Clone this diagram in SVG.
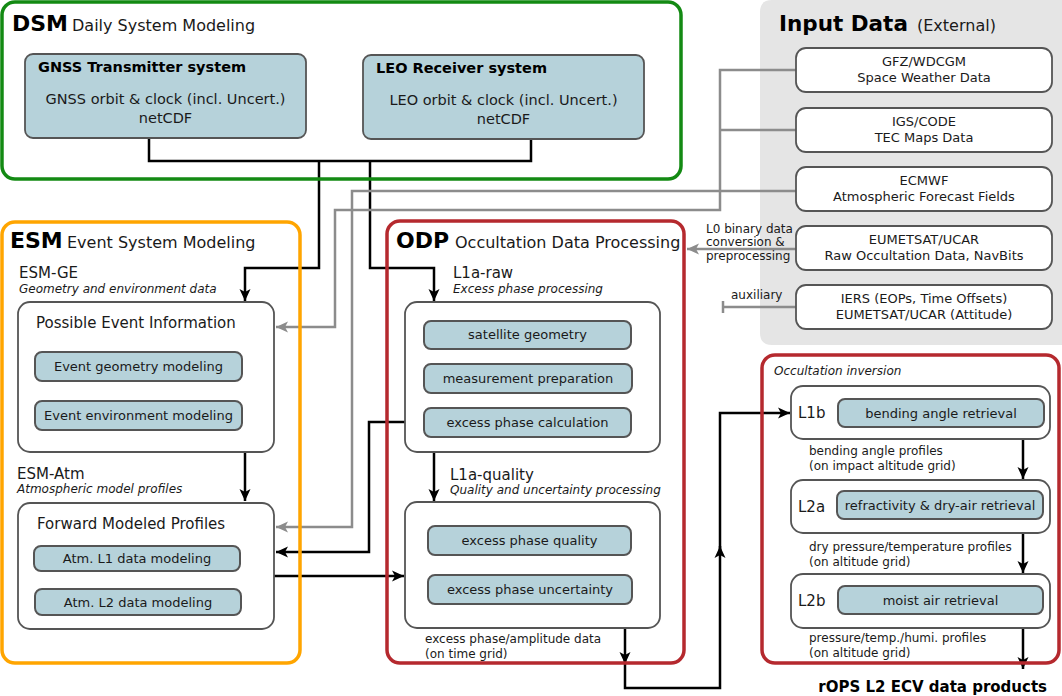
<svg xmlns="http://www.w3.org/2000/svg" width="1062" height="696" viewBox="0 0 1062 696">
<defs>
<marker id="ab" markerUnits="userSpaceOnUse" markerWidth="14" markerHeight="14" viewBox="0 0 14 14" refX="13" refY="7" orient="auto">
<path d="M1,1.5 L13,7 L1,12.5 L4,7 z" fill="#000"/>
</marker>
<marker id="ag" markerUnits="userSpaceOnUse" markerWidth="14" markerHeight="14" viewBox="0 0 14 14" refX="13" refY="7" orient="auto">
<path d="M1,1.5 L13,7 L1,12.5 L4,7 z" fill="#8c8c8c"/>
</marker>
<marker id="bar" markerUnits="userSpaceOnUse" markerWidth="14" markerHeight="14" viewBox="0 0 14 14" refX="7" refY="7" orient="auto">
<path d="M7,1 V13" stroke="#8c8c8c" stroke-width="2.5" fill="none"/>
</marker>
</defs>
<style>
text{font-family:"DejaVu Sans","Liberation Sans",sans-serif;fill:#1a1a1a}
.hb{font-size:22px;font-weight:bold;fill:#000}
.hs{font-size:16px}
.sys{fill:#b6d2da;stroke:#555;stroke-width:1.8}
.wb{fill:#fff;stroke:#555;stroke-width:1.8}
.blue{fill:#b6d2da;stroke:#555;stroke-width:2}
.b14{font-size:14.5px}
.bt{font-size:14.5px;font-weight:bold;fill:#000}
.t15{font-size:15px}
.t13{font-size:13px}
.t12{font-size:12px}
.it{font-size:12px;font-style:italic}
.bl{fill:none;stroke:#000;stroke-width:2.5}
.gl{fill:none;stroke:#8c8c8c;stroke-width:2.5}
.c{text-anchor:middle}
</style>
<rect width="1062" height="696" fill="#fff"/>
<g id="input-panel">
<path d="M772,0 H1062 V345 H772 Q760,345 760,333 V12 Q760,0 772,0 z" fill="#e5e5e5"/>
<text x="779" y="31" class="hb" style="font-size:21.5px">Input Data</text>
<text x="917" y="31" class="hs">(External)</text>
</g>
<g id="connectors">
<path class="bl" d="M149,138 V161 H531 V139"/>
<path class="bl" d="M319,161 V268 H245 V301" marker-end="url(#ab)"/>
<path class="bl" d="M370,161 V268 H434 V301" marker-end="url(#ab)"/>
<path class="bl" d="M245,452 V501" marker-end="url(#ab)"/>
<path class="bl" d="M434,452 V501" marker-end="url(#ab)"/>
<path class="bl" d="M405,422 H369 V552 H276" marker-end="url(#ab)"/>
<path class="bl" d="M274,576 H404" marker-end="url(#ab)"/>
<path class="bl" d="M625,628 V664" marker-end="url(#ab)"/>
<path class="bl" d="M625,660 V688 H720 V546" marker-end="url(#ab)"/>
<path class="bl" d="M720,550 V413 H790" marker-end="url(#ab)"/>
<path class="bl" d="M1023,439 V479" marker-end="url(#ab)"/>
<path class="bl" d="M1023,533 V573" marker-end="url(#ab)"/>
<path class="bl" d="M1023,628 V669" marker-end="url(#ab)"/>
<path class="gl" d="M796,70 H720 V210 H335 V327 H276" marker-end="url(#ag)"/>
<path class="gl" d="M796,130 H720"/>
<path class="gl" d="M796,191 H352 V527 H276" marker-end="url(#ag)"/>
<path class="gl" d="M796,249 H687" marker-end="url(#ag)"/>
<path class="gl" d="M796,307 H723" marker-end="url(#bar)"/>
</g>
<g id="dsm">
<rect x="2" y="2" width="679" height="177" rx="13" fill="none" stroke="#138a13" stroke-width="3.5"/>
<text x="12" y="31" class="hb">DSM</text>
<text x="72" y="31" class="hs">Daily System Modeling</text>
</g>
<g id="gnss">
<rect x="25" y="54" width="281" height="84" rx="8" class="sys"/>
<text x="38" y="72" class="bt">GNSS Transmitter system</text>
<text x="165.5" y="104" class="b14 c">GNSS orbit &amp; clock (incl. Uncert.)</text>
<text x="165.5" y="123" class="b14 c">netCDF</text>
</g>
<g id="leo">
<rect x="363" y="55" width="281" height="84" rx="8" class="sys"/>
<text x="376" y="73" class="bt">LEO Receiver system</text>
<text x="503.5" y="105" class="b14 c">LEO orbit &amp; clock (incl. Uncert.)</text>
<text x="503.5" y="124" class="b14 c">netCDF</text>
</g>
<g id="esm">
<rect x="2" y="222" width="298" height="441" rx="13" fill="none" stroke="#ffa500" stroke-width="3.5"/>
<text x="10" y="248" class="hb">ESM</text>
<text x="67" y="248" class="hs">Event System Modeling</text>
<text x="19" y="278" class="t15">ESM-GE</text>
<text x="19" y="293" class="it">Geometry and environment data</text>
<text x="17" y="479" class="t15">ESM-Atm</text>
<text x="17" y="493" class="it">Atmospheric model profiles</text>
</g>
<g id="possible-event">
<rect x="18" y="302" width="256" height="150" rx="12" class="wb"/>
<text x="36" y="328" class="t15">Possible Event Information</text>
<rect x="35" y="352" width="207" height="29" rx="7" class="blue"/>
<text x="138.5" y="371" class="t13 c">Event geometry modeling</text>
<rect x="35" y="401" width="207" height="29" rx="7" class="blue"/>
<text x="138.5" y="420" class="t13 c">Event environment modeling</text>
</g>
<g id="forward-modeled">
<rect x="18" y="503" width="256" height="126" rx="12" class="wb"/>
<text x="37" y="529" class="t15">Forward Modeled Profiles</text>
<rect x="34" y="546" width="206" height="25" rx="7" class="blue"/>
<text x="137" y="563" class="t13 c">Atm. L1 data modeling</text>
<rect x="35" y="589" width="206" height="26" rx="7" class="blue"/>
<text x="138" y="607" class="t13 c">Atm. L2 data modeling</text>
</g>
<g id="odp">
<rect x="387" y="221" width="297" height="442" rx="13" fill="none" stroke="#b5292e" stroke-width="3.5"/>
<text x="396" y="248" class="hb">ODP</text>
<text x="455" y="248" class="hs">Occultation Data Processing</text>
<text x="453" y="278" class="t15">L1a-raw</text>
<text x="453" y="293" class="it">Excess phase processing</text>
<text x="450" y="480" class="t15">L1a-quality</text>
<text x="450" y="494" class="it">Quality and uncertainty processing</text>
<text x="425" y="643" class="t12">excess phase/amplitude data</text>
<text x="425" y="658" class="t12">(on time grid)</text>
</g>
<g id="l1a-raw">
<rect x="405" y="302" width="255" height="150" rx="12" class="wb"/>
<rect x="424" y="321" width="207" height="28" rx="7" class="blue"/>
<text x="527.5" y="339" class="t13 c">satellite geometry</text>
<rect x="424" y="364" width="208" height="29" rx="7" class="blue"/>
<text x="528" y="383" class="t13 c">measurement preparation</text>
<rect x="424" y="408" width="207" height="29" rx="7" class="blue"/>
<text x="527.5" y="427" class="t13 c">excess phase calculation</text>
</g>
<g id="l1a-quality">
<rect x="405" y="502" width="255" height="126" rx="12" class="wb"/>
<rect x="428" y="526" width="203" height="29" rx="7" class="blue"/>
<text x="529.5" y="545" class="t13 c">excess phase quality</text>
<rect x="428" y="575" width="204" height="29" rx="7" class="blue"/>
<text x="530" y="594" class="t13 c">excess phase uncertainty</text>
</g>
<g id="occultation-inversion">
<rect x="762" y="355" width="297" height="308" rx="13" fill="none" stroke="#b5292e" stroke-width="3.5"/>
<text x="774" y="375" class="it">Occultation inversion</text>
<text x="809" y="455" class="t12">bending angle profiles</text>
<text x="809" y="470" class="t12">(on impact altitude grid)</text>
<text x="809" y="551" class="t12">dry pressure/temperature profiles</text>
<text x="809" y="566" class="t12">(on altitude grid)</text>
<text x="809" y="642" class="t12">pressure/temp./humi. profiles</text>
<text x="809" y="657" class="t12">(on altitude grid)</text>
</g>
<g id="l1b">
<rect x="791" y="386" width="259" height="53" rx="12" class="wb"/>
<text x="798" y="418" class="t15">L1b</text>
<rect x="838" y="399" width="206" height="28" rx="7" class="blue"/>
<text x="941" y="418" class="t13 c">bending angle retrieval</text>
</g>
<g id="l2a">
<rect x="791" y="480" width="259" height="53" rx="12" class="wb"/>
<text x="798" y="512" class="t15">L2a</text>
<rect x="837" y="491" width="206" height="28" rx="7" class="blue"/>
<text x="940" y="510" class="t13 c">refractivity &amp; dry-air retrieval</text>
</g>
<g id="l2b">
<rect x="791" y="574" width="259" height="54" rx="12" class="wb"/>
<text x="798" y="606" class="t15">L2b</text>
<rect x="838" y="586" width="205" height="28" rx="7" class="blue"/>
<text x="940.5" y="605" class="t13 c">moist air retrieval</text>
</g>
<g id="products">
<text x="1047" y="692" class="bt" style="font-size:15px;text-anchor:end">rOPS L2 ECV data products</text>
</g>
<g id="gfz">
<rect x="796" y="48" width="256" height="44" rx="10" class="wb"/>
<text x="924" y="66" class="t13 c">GFZ/WDCGM</text>
<text x="924" y="82" class="t13 c">Space Weather Data</text>
</g>
<g id="igs">
<rect x="796" y="108" width="256" height="44" rx="10" class="wb"/>
<text x="924" y="126" class="t13 c">IGS/CODE</text>
<text x="924" y="142" class="t13 c">TEC Maps Data</text>
</g>
<g id="ecmwf">
<rect x="796" y="167" width="256" height="44" rx="10" class="wb"/>
<text x="924" y="185" class="t13 c">ECMWF</text>
<text x="924" y="201" class="t13 c">Atmospheric Forecast Fields</text>
</g>
<g id="eumetsat">
<rect x="796" y="226" width="256" height="44" rx="10" class="wb"/>
<text x="924" y="244" class="t13 c">EUMETSAT/UCAR</text>
<text x="924" y="260" class="t13 c">Raw Occultation Data, NavBits</text>
</g>
<g id="iers">
<rect x="796" y="285" width="256" height="44" rx="10" class="wb"/>
<text x="924" y="303" class="t13 c">IERS (EOPs, Time Offsets)</text>
<text x="924" y="319" class="t13 c">EUMETSAT/UCAR (Attitude)</text>
</g>
<g id="labels">
<text x="706" y="233" class="t12">L0 binary data</text>
<text x="706" y="246" class="t12">conversion &amp;</text>
<text x="706" y="260" class="t12">preprocessing</text>
<text x="731" y="299" class="t12">auxiliary</text>
</g>
</svg>
